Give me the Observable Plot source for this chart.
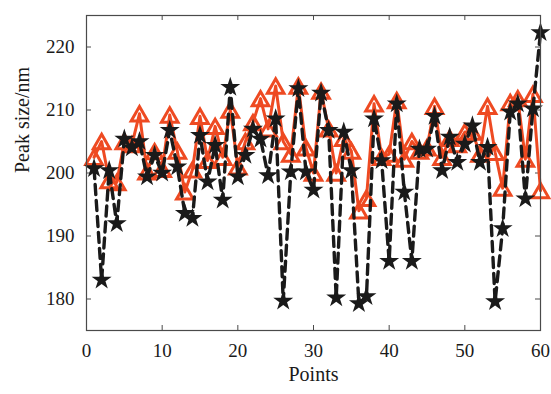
<!DOCTYPE html>
<html><head><meta charset="utf-8">
<script src="https://cdn.jsdelivr.net/npm/d3@7"></script>
<script src="https://cdn.jsdelivr.net/npm/@observablehq/plot@0.6"></script>
<style>html,body{margin:0;padding:0;background:#fff}</style>
</head><body><div id="chart"></div>
<script>
const points = d3.range(1, 61);
const blackSeries = [200.7,183,200.4,192,205.4,204,205,199.4,202.8,200,
  206.8,201,193.6,192.8,206,198.6,204.4,195.7,213.6,199.4,
  202.8,207,205.4,199.6,208.6,179.7,200.2,213.4,200.2,197.3,
  212.7,206.8,180.2,206.5,200.4,179.3,180.4,208.6,202,186,
  211,197,186,203.8,203.8,209,200.4,205.7,201.7,204.6,
  207.5,201.7,204.1,179.6,191.2,209.7,211,195.9,210.2,222.3];
const redSeries = [202.5,205,198.8,198.5,205,204.5,209.4,200.2,203.4,200.6,
  209.2,203.5,197,200.5,209,202,207.4,202.5,210,201,
  205,208,211.8,207,213.8,205,203,213.8,204,200,
  213,207,200,205.5,203.5,194,196,211,202.5,203,
  211.5,202.2,205,203.5,204,210.6,202.5,205.5,204.5,206.5,
  206.5,203,210.6,203.3,197.6,211.2,211.8,202.2,212.5,197.2];
const xTicks = [0,10,20,30,40,50,60];
const yTicks = [180,190,200,210,220];
const xLabel = "Points";
const yLabel = "Peak size/nm";

const blackData = points.map((p,i)=>({x:p, y:blackSeries[i]}));
const redData = points.map((p,i)=>({x:p, y:redSeries[i]}));

const star = {draw(ctx, size){
  const r = Math.sqrt(size/Math.PI), ri = r*0.382;
  for (let i=0;i<10;i++){
    const rr = i%2 ? ri : r;
    const a = -Math.PI/2 + i*Math.PI/5;
    const x = rr*Math.cos(a), y = rr*Math.sin(a);
    if (i) ctx.lineTo(x,y); else ctx.moveTo(x,y);
  }
  ctx.closePath();
}};
const tri = {draw(ctx, size){
  const r = Math.sqrt(size/Math.PI), h = r*Math.sqrt(3);
  ctx.moveTo(0,-h/2); ctx.lineTo(r,h/2); ctx.lineTo(-r,h/2); ctx.closePath();
}};

const RED = "#ee4a22", BLK = "#1a1a1a", AX = "#4a4a4a";
const W = 551, H = 394, mt = 15, mb = 64, ml = 86, mr = 11;
const fh = H - mt - mb, fw = W - ml - mr;

const chart = Plot.plot({
  width: W, height: H,
  marginTop: mt, marginBottom: mb, marginLeft: ml, marginRight: mr,
  style: {fontFamily: "'Liberation Serif', 'DejaVu Serif', serif", background: "#fff", color: "#1a1a1a"},
  x: {domain: [0, 60]},
  y: {domain: [175, 225]},
  marks: [
    Plot.axisX({ticks: xTicks, tickSize: 0, tickPadding: 13, fontSize: 19, label: null}),
    Plot.axisY({ticks: yTicks, tickSize: 0, tickPadding: 12, fontSize: 19, label: null}),
    Plot.tickX(xTicks, {x: d=>d, insetTop: fh-5, stroke: AX, strokeWidth: 1}),
    Plot.tickX(xTicks, {x: d=>d, insetBottom: fh-5, stroke: AX, strokeWidth: 1}),
    Plot.tickY(yTicks, {y: d=>d, insetRight: fw-5, stroke: AX, strokeWidth: 1}),
    Plot.tickY(yTicks, {y: d=>d, insetLeft: fw-5, stroke: AX, strokeWidth: 1}),
    Plot.line(redData, {x:"x", y:"y", stroke: RED, strokeWidth: 3}),
    Plot.dot(redData, {x:"x", y:"y", symbol: tri, r: 8.3, stroke: RED, strokeWidth: 3, fill: "none"}),
    Plot.line(blackData, {x:"x", y:"y", stroke: BLK, strokeWidth: 3.4, strokeDasharray: "10,6"}),
    Plot.dot(blackData, {x:"x", y:"y", symbol: star, r: 10.5, fill: BLK, stroke: "none"}),
    Plot.frame({stroke: AX, strokeWidth: 1.2}),
    Plot.text([xLabel], {frameAnchor: "bottom", dy: 50, fontSize: 20, fill: "#1a1a1a"}),
    Plot.text([yLabel], {frameAnchor: "left", dx: -64, rotate: -90, fontSize: 20, fill: "#1a1a1a"})
  ]
});
document.getElementById("chart").appendChild(chart);
</script>
</body></html>
